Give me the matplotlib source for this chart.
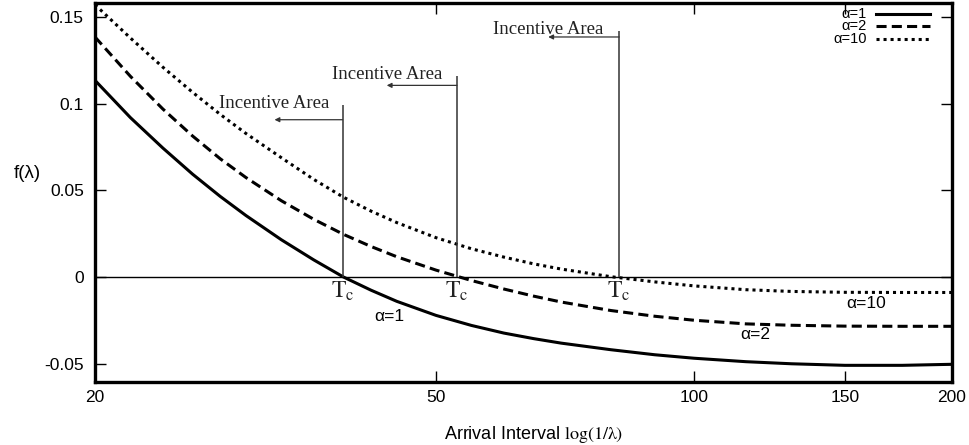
import matplotlib
matplotlib.use("Agg")
import matplotlib.pyplot as plt
from matplotlib.ticker import FixedLocator, FixedFormatter, NullLocator

plt.rcParams['font.family'] = ['Liberation Sans', 'DejaVu Sans']
plt.rcParams['mathtext.fontset'] = 'stix'

# arrival interval samples and f(lambda) for each alpha
interval = [20, 22, 24, 26, 28, 30, 33, 36, 39, 42, 45, 50, 55, 60, 65, 70,
            80, 90, 100, 115, 130, 150, 175, 200]
f_alpha1 = [0.1134, 0.0919, 0.0744, 0.0593, 0.0465, 0.0355, 0.0215, 0.0099,
            0.0, -0.0076, -0.0140, -0.0221, -0.0279, -0.0323, -0.0355,
            -0.0381, -0.0419, -0.0448, -0.0468, -0.0488, -0.0500, -0.0509,
            -0.0509, -0.0503]
f_alpha2 = [0.1384, 0.1157, 0.0969, 0.0813, 0.0682, 0.0574, 0.0440, 0.0333,
            0.0246, 0.0176, 0.0117, 0.0040, -0.0020, -0.0069, -0.0110,
            -0.0144, -0.0193, -0.0226, -0.0249, -0.0270, -0.0278, -0.0283,
            -0.0284, -0.0284]
f_alpha10 = [0.1570, 0.1378, 0.1210, 0.1065, 0.0938, 0.0828, 0.0688, 0.0563,
             0.0460, 0.0380, 0.0314, 0.0227, 0.0163, 0.0115, 0.0076, 0.0046,
             0.0002, -0.0028, -0.0051, -0.0073, -0.0083, -0.0088, -0.0089,
             -0.0089]

series_labels = ["α=1", "α=2", "α=10"]
# critical interval T_c where each curve crosses zero
tc = [38.9, 52.9, 81.8]

xticks = [20, 50, 100, 150, 200]
yticks = [-0.05, 0, 0.05, 0.1, 0.15]
ytick_labels = ["-0.05", "0", "0.05", "0.1", "0.15"]

fig = plt.figure(figsize=(9.69, 4.45), dpi=100)
ax = fig.add_axes([0.098, 0.1416, 0.8844, 0.8517])

styles = ['-', (0, (3.3, 1.7)), (0, (1, 1.3))]
curves = [f_alpha1, f_alpha2, f_alpha10]
for vals, ls in zip(curves, styles):
    ax.plot(interval, vals, color='black', lw=2.2, ls=ls)

ax.axhline(0, color='black', lw=1.0)

# incentive area markers: vertical line at T_c, arrow pointing to smaller intervals
vline_top = [0.099, 0.116, 0.142]
arrow_y = [0.0907, 0.1105, 0.1384]
arrow_tip = [32.4, 43.8, 67.6]
for t, top, ay, tip in zip(tc, vline_top, arrow_y, arrow_tip):
    ax.vlines(t, 0, top, colors='#333333', lw=1.1)
    ax.annotate('', xy=(tip, ay), xytext=(t, ay),
                arrowprops=dict(arrowstyle='-|>', lw=0.9, color='#333333',
                                mutation_scale=7, shrinkA=0, shrinkB=0))
    ax.text(tip, top + 0.001, "Incentive Area", family='Liberation Serif',
            fontsize=13.5, ha='center', va='center', color='#222222')
    ax.annotate(r'$\mathrm{T_c}$', xy=(t, 0), xytext=(0, -2),
                textcoords='offset points', ha='center', va='top', fontsize=17,
                color='#222222')

# curve labels
ax.text(44.1, -0.0227, "α=1", fontsize=12.5, ha='center', va='center')
ax.text(117.8, -0.0331, "α=2", fontsize=12.5, ha='center', va='center')
ax.text(158.8, -0.0151, "α=10", fontsize=12.5, ha='center', va='center')

# key in the top right corner, label first then line sample
key_rows = [0.971, 0.939, 0.905]
for lab, ls, ky in zip(series_labels, styles, key_rows):
    ax.plot([0.911, 0.974], [ky, ky], transform=ax.transAxes, color='black',
            lw=2.2, ls=ls)
    ax.text(0.901, ky, lab, transform=ax.transAxes, fontsize=10.5,
            ha='right', va='center')

ax.set_xscale('log')
ax.set_xlim(20, 200)
ax.set_ylim(-0.0605, 0.158)
ax.xaxis.set_major_locator(FixedLocator(xticks))
ax.xaxis.set_major_formatter(FixedFormatter([str(v) for v in xticks]))
ax.xaxis.set_minor_locator(NullLocator())
ax.yaxis.set_major_locator(FixedLocator(yticks))
ax.yaxis.set_major_formatter(FixedFormatter(ytick_labels))
ax.tick_params(direction='in', length=8, width=1.0, top=True, right=True,
               labelsize=12.5)
ax.tick_params(axis='x', pad=6)
ax.tick_params(axis='y', pad=8)
for sp in ax.spines.values():
    sp.set_linewidth(2.4)

ax.set_xlabel(r'Arrival Interval $\mathrm{log(1/\lambda)}$', fontsize=13)
ax.xaxis.set_label_coords(0.512, -0.11)
ax.text(-0.079, 0.55, "f(λ)", transform=ax.transAxes, fontsize=13.5,
        ha='center', va='center')

fig.savefig("out.png", dpi=100)
